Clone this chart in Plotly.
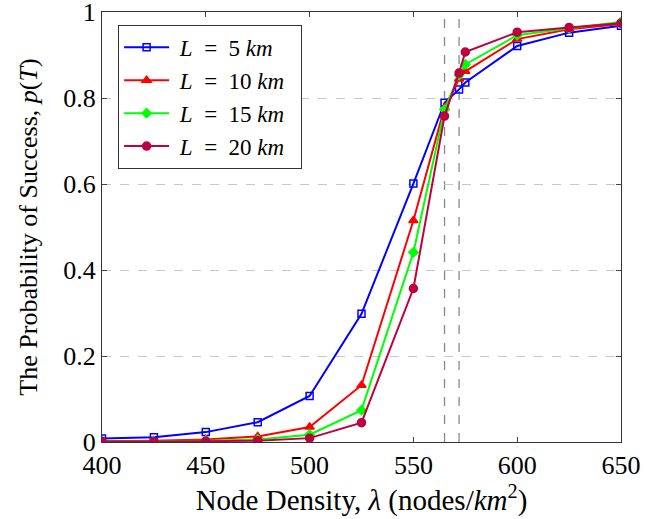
import plotly.graph_objects as go

x_vals = [400, 425, 450, 475, 500, 525, 550, 565, 572, 575, 600, 625, 650]
p_L5 = [0.008, 0.011, 0.023, 0.046, 0.107, 0.298, 0.601, 0.789, 0.820, 0.836, 0.921, 0.952, 0.968]
p_L10 = [0.002, 0.003, 0.006, 0.013, 0.035, 0.132, 0.515, 0.778, 0.844, 0.862, 0.937, 0.960, 0.972]
p_L15 = [0.001, 0.002, 0.003, 0.006, 0.017, 0.074, 0.441, 0.773, 0.853, 0.878, 0.946, 0.962, 0.977]
p_L20 = [0.001, 0.001, 0.002, 0.003, 0.009, 0.045, 0.357, 0.758, 0.858, 0.907, 0.953, 0.964, 0.974]
L_values = ["5", "10", "15", "20"]
NB = "\u00a0"
series_names = [f"{NB}<i>L</i>{NB*2}={NB*2}{v}{NB}<i>km</i>{NB*2}" for v in L_values]
vlines = [565, 572]
x_ticks = [400, 450, 500, 550, 600, 650]
y_ticks = [0, 0.2, 0.4, 0.6, 0.8, 1]
y_tick_labels = ["0", "0.2", "0.4", "0.6", "0.8", "1"]

FONT = "Liberation Serif"
styles = [
    dict(color="#0000FF", symbol="square-open", size=7),
    dict(color="#FF0000", symbol="triangle-up", size=8),
    dict(color="#00FF00", symbol="diamond", size=7),
    dict(color="#BF0040", symbol="circle", size=8),
]
data = [p_L5, p_L10, p_L15, p_L20]

fig = go.Figure()
for i, (name, ys, st) in enumerate(zip(series_names, data, styles)):
    fig.add_trace(go.Scatter(
        x=x_vals, y=ys, name=name, mode="lines+markers",
        legendgroup=f"g{i}",
        line=dict(color=st["color"], width=2),
        marker=dict(color=st["color"], symbol=st["symbol"], size=st["size"],
                    line=dict(color=st["color"], width=1.5)),
    ))

for v in vlines:
    fig.add_shape(type="line", x0=v, x1=v, y0=0, y1=1, xref="x", yref="paper",
                  line=dict(color="#888888", width=1.3, dash="dash"), layer="below")

fig.update_layout(
    width=665, height=519,
    margin=dict(l=102, r=44, t=12, b=77, autoexpand=False),
    paper_bgcolor="white", plot_bgcolor="white",
    font=dict(family=FONT, size=22, color="black"),
    legend=dict(x=0.031, y=0.97, xanchor="left", yanchor="top",
                bordercolor="#333333", borderwidth=1, bgcolor="white",
                font=dict(family=FONT, size=23), tracegroupgap=0, itemwidth=45),
    showlegend=True,
)
fig.update_xaxes(
    range=[400, 650], tickvals=x_ticks, ticks="inside", ticklen=5,
    showline=True, linecolor="#333333", linewidth=1.2, mirror="allticks",
    showgrid=False, zeroline=False, automargin=False, ticklabeloverflow="allow",
    title=dict(text="Node Density, <i>λ</i> (nodes/<i>km</i><sup>2</sup>)", standoff=8,
               font=dict(family=FONT, size=29)),
    tickfont=dict(family=FONT, size=26),
)
fig.update_yaxes(
    range=[0, 1], tickvals=y_ticks, ticktext=y_tick_labels, ticks="inside", ticklen=5,
    showline=True, linecolor="#333333", linewidth=1.2, mirror="allticks",
    showgrid=True, gridcolor="#c8c8c8", griddash="dash", gridwidth=1,
    zeroline=False, automargin=False, ticklabeloverflow="allow",
    title=dict(text="The Probability of Success, <i>p</i>(<i>T</i>)", standoff=18,
               font=dict(family=FONT, size=26)),
    tickfont=dict(family=FONT, size=26),
)

fig.write_html("out.html")
